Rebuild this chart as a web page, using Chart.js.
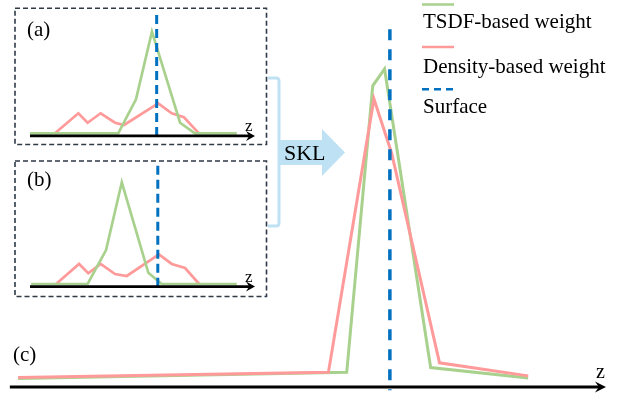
<!DOCTYPE html>
<html><head><meta charset="utf-8">
<script src="https://cdn.jsdelivr.net/npm/chart.js@4.4.1/dist/chart.umd.min.js"></script>
<style>
html,body{margin:0;padding:0;background:#fff;}
#wrap{position:relative;width:629px;height:394px;overflow:hidden;background:#fff;}
#wrap canvas{position:absolute;left:0;top:0;}
</style></head><body>
<div id="wrap">
<canvas id="cMain" width="629" height="394"></canvas>
<canvas id="cA" width="629" height="394"></canvas>
<canvas id="cB" width="629" height="394"></canvas>
</div>
<script>
// ---------- text ----------
const seriesLabels = ['TSDF-based weight', 'Density-based weight', 'Surface'];
const panelLabels = ['(a)', '(b)', '(c)'];
const axisLabel = 'z';
const arrowLabel = 'SKL';

// ---------- data: main panel (c) ----------
const mainZGreen = [0.7, 56.3, 60.7, 62.7, 70.5, 87.0];
const mainWGreen = [0.027, 0.046, 0.947, 1.0, 0.061, 0.028];
const mainZRed   = [0.7, 53.2, 60.9, 63.9, 72.0, 87.0];
const mainWRed   = [0.030, 0.046, 0.906, 0.735, 0.076, 0.035];
const mainSurfaceZ = 63.6;
const mainSurfaceW = [1.125, -0.01];

// ---------- data: inset (a) ----------
const aZGreen = [0.0, 3.92, 4.71, 5.42, 6.67, 7.33, 9.19];
const aWGreen = [0, 0, 0.335, 1.0, 0.104, 0, 0];
const aZRed   = [1.11, 2.15, 2.56, 3.14, 3.78, 4.18, 5.70, 6.30, 6.84, 7.51];
const aWRed   = [0, 0.197, 0.104, 0.197, 0.104, 0.082, 0.295, 0.197, 0.158, 0];
const aSurfaceZ = 5.63;
const aSurfaceW = [1.164, -0.027];

// ---------- data: inset (b) ----------
const bZGreen = [0.05, 2.56, 3.38, 4.08, 5.26, 5.85, 9.19];
const bWGreen = [0, 0, 0.334, 1.0, 0.11, 0, 0];
const bZRed   = [1.16, 2.18, 2.59, 3.14, 3.78, 4.30, 5.73, 6.30, 6.89, 7.52];
const bWRed   = [0, 0.197, 0.105, 0.197, 0.098, 0.079, 0.29, 0.197, 0.157, 0];
const bSurfaceZ = 5.68;
const bSurfaceW = [1.163, -0.027];

// ---------- styles ----------
const GREEN = '#A9D18E';
const RED = '#FF9A9A';
const BLUE = '#0070C0';
const LIGHTBLUE = '#BEE2F4';
const BOXCOL = '#2E3A46';
const SERIF = '"Liberation Serif", "Times New Roman", serif';

const zip = (xs, ys) => xs.map((x, i) => ({x: x, y: ys[i]}));

function arrowHead(ctx, tipX, y, len, half) {
  ctx.beginPath();
  ctx.moveTo(tipX, y);
  ctx.lineTo(tipX - len, y - half);
  ctx.lineTo(tipX - len * 0.65, y);
  ctx.lineTo(tipX - len, y + half);
  ctx.closePath();
  ctx.fill();
}

function lineDs(label, data, color, width, order, dash) {
  return {
    label: label, data: data, showLine: true, borderColor: color, backgroundColor: color,
    borderWidth: width, pointRadius: 0, pointHoverRadius: 0, fill: false, tension: 0,
    clip: false, order: order, borderDash: dash || [], borderJoinStyle: 'miter', borderCapStyle: 'butt'
  };
}

// ---------- main chart plugin ----------
const mainDecor = {
  id: 'mainDecor',
  afterDraw(chart) {
    const ctx = chart.ctx;
    const xs = chart.scales.x, ys = chart.scales.y;
    const y0 = ys.getPixelForValue(0);
    const x0 = xs.getPixelForValue(0) - 0.7 * xs.width / 100;
    const x1 = xs.getPixelForValue(100) + 1;
    ctx.save();
    // axis
    ctx.strokeStyle = '#000'; ctx.fillStyle = '#000'; ctx.lineWidth = 3;
    ctx.beginPath(); ctx.moveTo(x0, y0); ctx.lineTo(x1 - 6, y0); ctx.stroke();
    arrowHead(ctx, x1, y0, 11, 5.5);
    ctx.font = '20px ' + SERIF; ctx.textBaseline = 'alphabetic'; ctx.textAlign = 'left';
    ctx.fillText(axisLabel, x1 - 10, y0 - 9);
    ctx.font = '21px ' + SERIF;
    ctx.fillText(panelLabels[2], 13, 360.5);

    // legend
    const ds = chart.data.datasets;
    const legendOrder = [0, 1, 2];
    const rowLineY = [4.5, 47, 89.3];
    const rowTextY = [28.3, 72.7, 113.3];
    legendOrder.forEach((di, r) => {
      const d = ds[di];
      ctx.strokeStyle = d.borderColor;
      ctx.lineWidth = 2.5;
      ctx.setLineDash(d.borderDash && d.borderDash.length ? [7, 5] : []);
      ctx.beginPath(); ctx.moveTo(422, rowLineY[r]); ctx.lineTo(454, rowLineY[r]); ctx.stroke();
      ctx.setLineDash([]);
      ctx.fillStyle = '#000';
      ctx.font = '21px ' + SERIF;
      ctx.fillText(d.label, 423, rowTextY[r]);
    });

    // bracket
    ctx.strokeStyle = LIGHTBLUE; ctx.lineWidth = 3; ctx.lineJoin = 'round';
    ctx.beginPath();
    ctx.moveTo(268, 78); ctx.lineTo(276, 78);
    ctx.quadraticCurveTo(279, 78, 279, 81);
    ctx.lineTo(279, 223);
    ctx.quadraticCurveTo(279, 226, 276, 226);
    ctx.lineTo(268, 226);
    ctx.stroke();

    // SKL arrow
    ctx.fillStyle = LIGHTBLUE;
    ctx.beginPath();
    ctx.moveTo(280, 140); ctx.lineTo(322, 140); ctx.lineTo(322, 129);
    ctx.lineTo(345, 152.5); ctx.lineTo(322, 176); ctx.lineTo(322, 165);
    ctx.lineTo(280, 165); ctx.closePath(); ctx.fill();
    ctx.fillStyle = '#000';
    ctx.font = '22px ' + SERIF;
    ctx.fillText(arrowLabel, 284, 160);
    ctx.restore();
  }
};

new Chart(document.getElementById('cMain'), {
  type: 'scatter',
  data: {
    datasets: [
      lineDs(seriesLabels[0], zip(mainZGreen, mainWGreen), GREEN, 3, 2),
      lineDs(seriesLabels[1], zip(mainZRed, mainWRed), RED, 3, 1),
      lineDs(seriesLabels[2], mainSurfaceW.map(w => ({x: mainSurfaceZ, y: w})), BLUE, 3.5, 0, [11, 9])
    ]
  },
  options: {
    responsive: false, animation: false, devicePixelRatio: 1,
    layout: {padding: {left: 14, right: 24, top: 29, bottom: 7}},
    scales: {
      x: {type: 'linear', min: 0, max: 100, display: false},
      y: {type: 'linear', min: 0, max: 1.1258, display: false}
    },
    plugins: {legend: {display: false}, tooltip: {enabled: false}}
  },
  plugins: [mainDecor]
});

// ---------- insets ----------
function makeInset(id, label, zg, wg, zr, wr, sz, sw, pad, ymax, box, labelY) {
  const decor = {
    id: 'insetDecor' + id,
    afterDraw(chart) {
      const ctx = chart.ctx;
      const xs = chart.scales.x, ys = chart.scales.y;
      const ay = ys.getPixelForValue(0) + 2.6;
      const ax0 = xs.getPixelForValue(0);
      const ax1 = xs.getPixelForValue(10);
      ctx.save();
      // dashed box
      ctx.strokeStyle = BOXCOL; ctx.lineWidth = 1.6; ctx.setLineDash([5, 3]);
      ctx.strokeRect(box[0], box[1], box[2] - box[0], box[3] - box[1]);
      ctx.setLineDash([]);
      // axis
      ctx.strokeStyle = '#000'; ctx.fillStyle = '#000'; ctx.lineWidth = 2.7;
      ctx.beginPath(); ctx.moveTo(ax0, ay); ctx.lineTo(ax1 - 5, ay); ctx.stroke();
      arrowHead(ctx, ax1, ay, 9, 5);
      ctx.font = '17px ' + SERIF; ctx.textAlign = 'left'; ctx.textBaseline = 'alphabetic';
      ctx.fillText(axisLabel, ax1 - 10, ay - 5);
      ctx.font = '21px ' + SERIF;
      ctx.fillText(label, 27, labelY);
      ctx.restore();
    }
  };
  new Chart(document.getElementById(id), {
    type: 'scatter',
    data: {
      datasets: [
        lineDs(seriesLabels[0], zip(zg, wg), GREEN, 2.7, 1),
        lineDs(seriesLabels[1], zip(zr, wr), RED, 2.7, 2),
        lineDs(seriesLabels[2], sw.map(w => ({x: sz, y: w})), BLUE, 3, 0, [9, 5])
      ]
    },
    options: {
      responsive: false, animation: false, devicePixelRatio: 1,
      layout: {padding: pad},
      scales: {
        x: {type: 'linear', min: 0, max: 10, display: false},
        y: {type: 'linear', min: 0, max: ymax, display: false}
      },
      plugins: {legend: {display: false}, tooltip: {enabled: false}}
    },
    plugins: [decor]
  });
}

makeInset('cA', panelLabels[0], aZGreen, aWGreen, aZRed, aWRed, aSurfaceZ, aSurfaceW,
  {left: 30, right: 374, top: 15, bottom: 260.7}, 1.164, [15, 8.3, 266.5, 144.5], 35.5);
makeInset('cB', panelLabels[1], bZGreen, bWGreen, bZRed, bWRed, bSurfaceZ, bSurfaceW,
  {left: 30, right: 374, top: 165.7, bottom: 110}, 1.163, [15, 161, 266.5, 296.5], 185.5);
</script>
</body></html>
